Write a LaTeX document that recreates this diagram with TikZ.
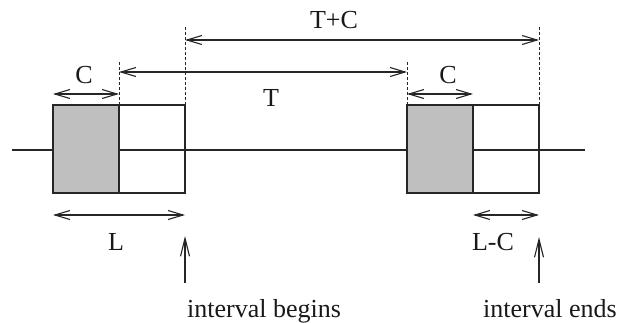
\documentclass[tikz,border=0pt]{standalone}
\usepackage{fontspec}
\setmainfont{Liberation Serif}
\usetikzlibrary{arrows.meta}
\begin{document}
\begin{tikzpicture}[x=1pt,y=-1pt,
  ink/.style={draw=black!85,line width=1.1pt},
  slot/.style={ink,rectangle,minimum width=66pt,minimum height=88pt,inner sep=0pt,outer sep=0pt},
  busy/.style={slot,fill=black!25},
  guide/.style={ink,line width=0.9pt,dash pattern=on 3pt off 2pt},
  dim/.style={ink,{Straight Barb[length=15pt,width=9pt]}-{Straight Barb[length=15pt,width=9pt]}},
  pointer/.style={ink,-{Straight Barb[length=18pt,width=9pt]}},
  lbl/.style={font=\fontsize{26}{30}\selectfont,inner sep=0pt,text=black!90}
]
\useasboundingbox (0,0) rectangle (629,322);

% time line, drawn first so the grey boxes cover it
\coordinate (start) at (12,150);
\coordinate (stop) at (585,150);
\draw[ink] (start) -- (stop);

% first listen window: busy part (C) and idle remainder
\node[busy] (g1) at (86,149) {};
\node[slot] (w1) at (152,149) {};
% second listen window
\node[busy] (g2) at (440,149) {};
\node[slot] (w2) at (506,149) {};

% dashed extension lines
\coordinate (xA) at (119,62);
\coordinate (xB) at (185,27);
\coordinate (xC) at (407,62);
\coordinate (xD) at (539,27);
\draw[guide] (g1.north east) -- (xA);
\draw[guide] (w1.north east) -- (xB);
\draw[guide] (g2.north west) -- (xC);
\draw[guide] (w2.north east) -- (xD);

% T+C
\coordinate (tc0) at (185,40);
\coordinate (tc1) at (539,40);
\draw[dim] (tc0) -- (tc1);
\node[lbl,anchor=base] (tcl) at (334,28) {T+C};

% T
\coordinate (t0) at (119,72);
\coordinate (t1) at (407,72);
\draw[dim] (t0) -- (t1);
\node[lbl,anchor=base] (tl) at (271,106) {T};

% C on each window
\coordinate (c0) at (53,94);
\coordinate (c1) at (119,94);
\draw[dim] (c0) -- (c1);
\node[lbl,anchor=base] (cl1) at (84,83) {C};
\coordinate (c2) at (407,94);
\coordinate (c3) at (473,94);
\draw[dim] (c2) -- (c3);
\node[lbl,anchor=base] (cl2) at (448,83) {C};

% L and L-C
\coordinate (l0) at (53,215);
\coordinate (l1) at (185,215);
\draw[dim] (l0) -- (l1);
\node[lbl,anchor=base] (ll) at (116,250) {L};
\coordinate (lc0) at (473,215);
\coordinate (lc1) at (539,215);
\draw[dim] (lc0) -- (lc1);
\node[lbl,anchor=base] (lcl) at (493,250) {L-C};

% interval markers
\coordinate (b0) at (185,283);
\coordinate (b1) at (185,236);
\draw[pointer] (b0) -- (b1);
\node[lbl,anchor=base west] (begins) at (187,317) {interval begins};
\coordinate (e0) at (539,283);
\coordinate (e1) at (539,237);
\draw[pointer] (e0) -- (e1);
\node[lbl,anchor=base west] (ends) at (483,317) {interval ends};
\end{tikzpicture}
\end{document}
